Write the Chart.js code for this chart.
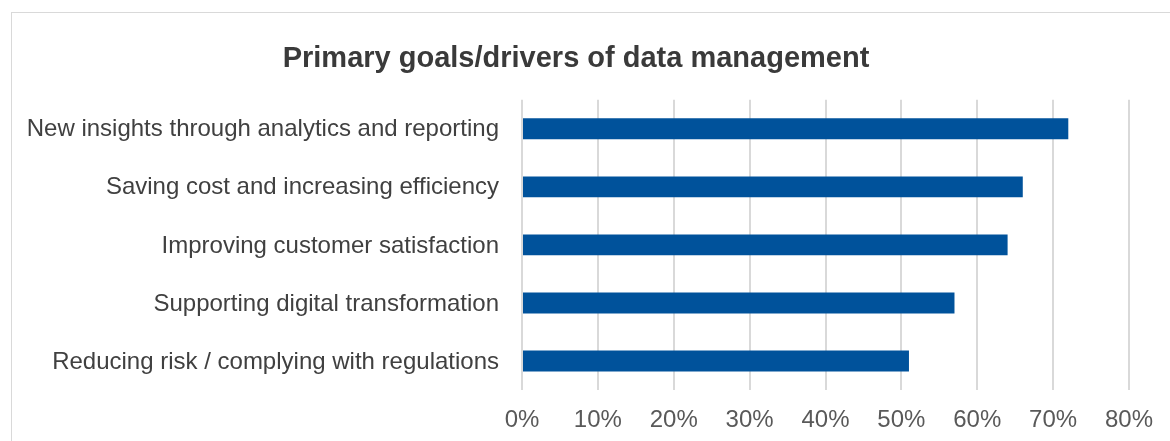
<!DOCTYPE html>
<html>
<head>
<meta charset="utf-8">
<script src="https://cdn.jsdelivr.net/npm/chart.js@4/dist/chart.umd.min.js"></script>
<style>
  html, body { margin: 0; padding: 0; background: #fff; overflow: hidden; }
  #frame {
    position: absolute; left: 11px; top: 12px; width: 1200px; height: 460px;
    border: 1px solid #d9d9d9; box-sizing: border-box;
  }
  #wrap { position: absolute; left: 0; top: 0; width: 1170px; height: 441px; }
</style>
</head>
<body>
<div id="frame"></div>
<div id="wrap"><canvas id="myBarChart" width="1170" height="441"></canvas></div>
<script>
// Bar Chart data
const categories = [
  "New insights through analytics and reporting",
  "Saving cost and increasing efficiency",
  "Improving customer satisfaction",
  "Supporting digital transformation",
  "Reducing risk / complying with regulations",
];
const shares = [72, 66, 64, 57, 51];
const tickValues = [0, 10, 20, 30, 40, 50, 60, 70, 80];

const ctxBar = document.getElementById("myBarChart");
const myBarChart = new Chart(ctxBar, {
  type: "bar",
  data: {
    labels: categories,
    datasets: [
      {
        label: "Share",
        data: shares,
        backgroundColor: "#00529b",
        borderWidth: 0,
        barPercentage: 0.36,
        categoryPercentage: 1,
      },
    ],
  },
  options: {
    indexAxis: "y",
    responsive: false,
    animation: false,
    layout: { padding: { left: 23, right: 41, top: 0, bottom: 0 } },
    plugins: {
      legend: { display: false },
      tooltip: { enabled: false },
      title: {
        display: true,
        text: "Primary goals/drivers of data management",
        color: "#3a3a3a",
        font: { family: "Liberation Sans, Arial", size: 29, weight: "bold", lineHeight: 1.2 },
        padding: { top: 42, bottom: 23 },
      },
    },
    scales: {
      x: {
        min: 0,
        max: 80,
        afterBuildTicks: (scale) => {
          scale.ticks = tickValues.map((v) => ({ value: v }));
        },
        afterFit: (scale) => {
          scale.height = 51;
        },
        border: { display: false },
        grid: { color: "#d9d9d9", lineWidth: 2, drawTicks: false },
        ticks: {
          callback: (v) => v + "%",
          color: "#595959",
          padding: 16,
          font: { family: "Liberation Sans, Arial", size: 24 },
        },
      },
      y: {
        afterFit: (scale) => {
          scale.width = 499;
        },
        border: { display: false },
        grid: { display: false, drawTicks: false },
        ticks: {
          color: "#404040",
          padding: 23,
          labelOffset: 1,
          font: { family: "Liberation Sans, Arial", size: 24 },
        },
      },
    },
  },
});
</script>
</body>
</html>
